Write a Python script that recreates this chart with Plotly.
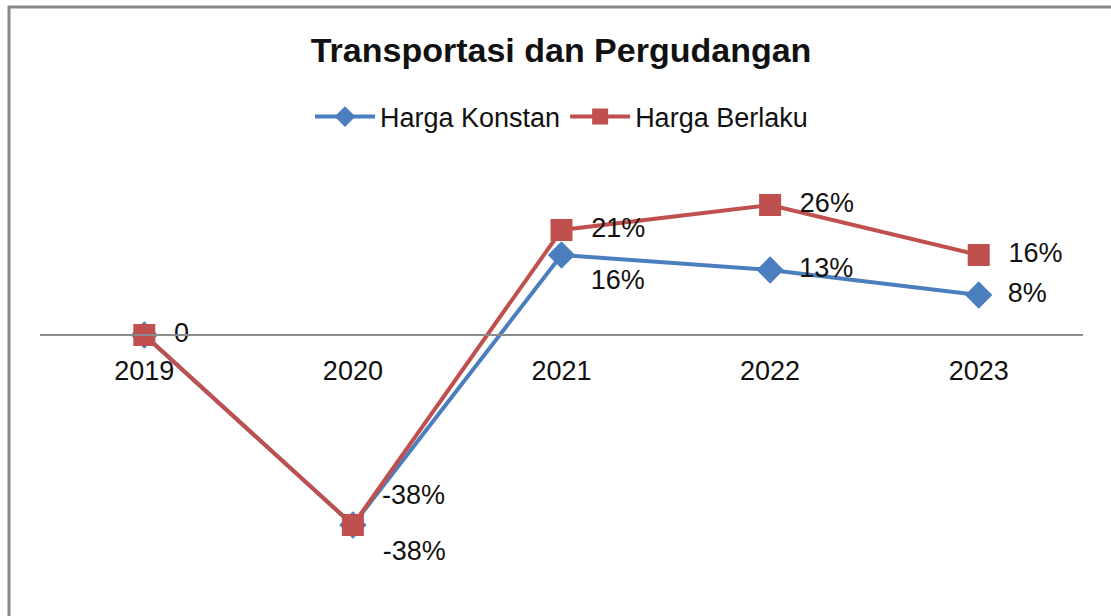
import plotly.graph_objects as go

years = ["2019", "2020", "2021", "2022", "2023"]
konstan = [0, -38, 16, 13, 8]
berlaku = [0, -38, 21, 26, 16]
konstan_labels = ["", "-38%", "16%", "13%", "8%"]
berlaku_labels = ["0", "-38%", "21%", "26%", "16%"]

BLUE = "#4A7EBF"
RED = "#C0504D"
FONT = "Liberation Sans, Arial, Helvetica, sans-serif"
PAD = "\u00a0\u00a0"

fig = go.Figure()
fig.add_trace(go.Scatter(
    x=years, y=konstan, name="Harga Konstan",
    mode="lines+markers+text", text=[PAD + t if t else t for t in konstan_labels],
    textposition=["middle right", "top right", "bottom right", "middle right", "middle right"],
    textfont=dict(size=27, color="#111111", family=FONT),
    line=dict(color=BLUE, width=4),
    marker=dict(symbol="diamond", size=21, color=BLUE),
    cliponaxis=False,
))
fig.add_trace(go.Scatter(
    x=years, y=berlaku, name="Harga Berlaku",
    mode="lines+markers+text", text=[PAD + t for t in berlaku_labels],
    textposition=["middle right", "bottom right", "middle right", "middle right", "middle right"],
    textfont=dict(size=27, color="#111111", family=FONT),
    line=dict(color=RED, width=4),
    marker=dict(symbol="square", size=22, color=RED),
    cliponaxis=False,
))

# plot area: top 179px, bottom 589px -> 410px at 5 px per percentage point
y_min, y_max = -50.8, 31.2
fig.update_layout(
    width=1111, height=616,
    margin=dict(l=40, r=28, t=179, b=27),
    paper_bgcolor="white", plot_bgcolor="white",
    font=dict(family=FONT, color="#111111", size=27),
    title=dict(text="<b>Transportasi dan Pergudangan</b>", x=0.505, xanchor="center",
               y=1 - 50 / 616, yanchor="middle", font=dict(size=34, color="#111111")),
    showlegend=True,
    legend=dict(orientation="h", x=0.5, xanchor="center", y=1 + (179 - 117) / 410,
                yanchor="middle", font=dict(size=27), itemwidth=60,
                bgcolor="rgba(0,0,0,0)"),
    xaxis=dict(type="category", range=[-0.5, 4.5], anchor="free",
               position=(0 - y_min) / (y_max - y_min),
               showline=True, linecolor="#8c8c8c", linewidth=2,
               ticks="", showgrid=False, zeroline=False,
               ticklabelstandoff=12, tickfont=dict(size=27)),
    yaxis=dict(range=[y_min, y_max], visible=False, showgrid=False, zeroline=False),
    shapes=[dict(type="rect", xref="paper", yref="paper",
                 x0=(9 - 40) / 1043, x1=1.2, y0=-0.5, y1=(589 - 7) / 410,
                 line=dict(color="#8a8a8a", width=3), layer="below")],
)

fig.write_html("out.html")
